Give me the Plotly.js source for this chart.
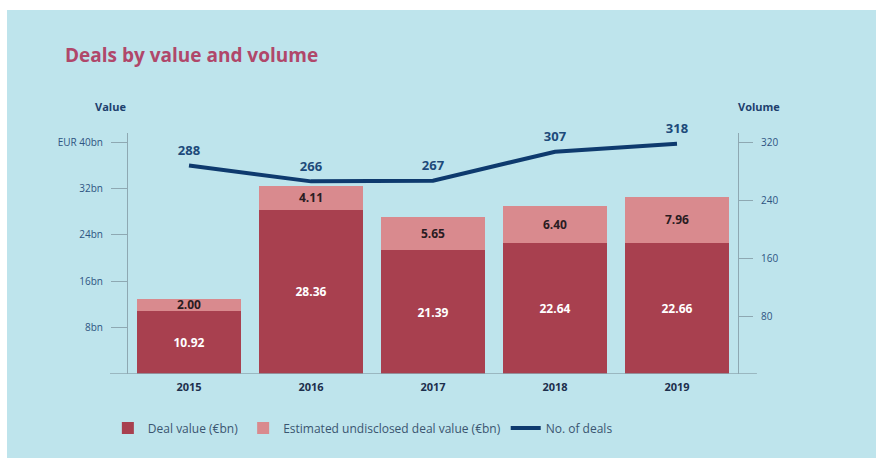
<!DOCTYPE html>
<html>
<head>
<meta charset="utf-8">
<script src="https://cdn.plot.ly/plotly-3.0.1.min.js"></script>
<style>
  html, body { margin: 0; padding: 0; background: #ffffff; }
  #chart { position: absolute; left: 7px; top: 10px; width: 869px; height: 448px; }
</style>
</head>
<body>
<div id="chart"></div>
<script>
const years = ['2015', '2016', '2017', '2018', '2019'];
const dealValue = [10.92, 28.36, 21.39, 22.64, 22.66];
const undisclosedValue = [2.00, 4.11, 5.65, 6.40, 7.96];
const numDeals = [288, 266, 267, 307, 318];
const valueTickVals = [8, 16, 24, 32, 40];
const valueTickText = ['8bn', '16bn', '24bn', '32bn', 'EUR 40bn'];
const volumeTickVals = [80, 160, 240, 320];

const FONT = '"Open Sans", "Noto Sans", Arial, sans-serif';
const AXIS_COLOR = '#8ea8b2';
const TICK_FONT_COLOR = '#2e5482';

const traces = [
  {
    type: 'bar', name: 'Deal value (€bn)', x: years, y: dealValue,
    marker: { color: '#a8404f' },
    text: dealValue.map(v => v.toFixed(2)),
    textposition: 'inside', insidetextanchor: 'middle', constraintext: 'none',
    textangle: 0,
    textfont: { family: FONT, size: 12, color: '#ffffff', weight: 'bold' },
    hoverinfo: 'skip'
  },
  {
    type: 'bar', name: 'Estimated undisclosed deal value (€bn)', x: years, y: undisclosedValue,
    marker: { color: '#d98a8e' },
    text: undisclosedValue.map(v => v.toFixed(2)),
    textposition: 'inside', insidetextanchor: 'middle', constraintext: 'none',
    textangle: 0,
    textfont: { family: FONT, size: 12, color: '#2a1c22', weight: 'bold' },
    hoverinfo: 'skip'
  },
  {
    type: 'scatter', mode: 'lines+markers+text', name: 'No. of deals', x: years, y: numDeals,
    yaxis: 'y2', cliponaxis: false,
    line: { color: '#0e3a6e', width: 4 },
    marker: { size: 10, color: 'rgba(0,0,0,0)' },
    text: numDeals.map(String), textposition: 'top center',
    textfont: { family: FONT, size: 13, color: '#1d4a7a', weight: 'bold' },
    hoverinfo: 'skip'
  }
];

const layout = {
  width: 869, height: 448,
  paper_bgcolor: '#bee4ec', plot_bgcolor: 'rgba(0,0,0,0)',
  margin: { l: 121, r: 138, t: 123, b: 84, pad: 0 },
  font: { family: FONT, color: TICK_FONT_COLOR },
  barmode: 'stack', bargap: 0.15,
  showlegend: true,
  title: {
    text: 'Deals by value and volume',
    xref: 'container', x: 58 / 869, xanchor: 'left',
    yref: 'container', y: 1 - 45 / 448, yanchor: 'middle',
    font: { family: FONT, size: 19, color: '#b0476a', weight: 'bold' }
  },
  xaxis: {
    type: 'category', range: [-0.5, 4.5], fixedrange: true,
    showline: false, showgrid: false, zeroline: false, ticks: '',
    ticklabelstandoff: 5,
    tickfont: { family: FONT, size: 11, color: '#1d2f4d', weight: 'bold' }
  },
  yaxis: {
    range: [0, 41.6], fixedrange: true,
    tickvals: valueTickVals, ticktext: valueTickText,
    showline: true, linecolor: AXIS_COLOR, linewidth: 1,
    ticks: 'outside', ticklen: 16, tickcolor: AXIS_COLOR, tickwidth: 1,
    ticklabelstandoff: 6,
    showgrid: false, zeroline: false,
    tickfont: { family: FONT, size: 10, color: TICK_FONT_COLOR }
  },
  yaxis2: {
    overlaying: 'y', side: 'right', range: [0, 332.8], fixedrange: true,
    tickvals: volumeTickVals,
    showline: true, linecolor: AXIS_COLOR, linewidth: 1,
    ticks: 'outside', ticklen: 14, tickcolor: AXIS_COLOR, tickwidth: 1,
    ticklabelstandoff: 6,
    showgrid: false, zeroline: false,
    tickfont: { family: FONT, size: 10, color: TICK_FONT_COLOR }
  },
  legend: {
    orientation: 'h', xref: 'paper', x: -0.033, xanchor: 'left',
    y: -0.224, yanchor: 'middle',
    bgcolor: 'rgba(0,0,0,0)',
    font: { family: FONT, size: 12, color: '#3a5570' },
    traceorder: 'normal'
  },
  shapes: [
    {
      type: 'line', xref: 'paper', yref: 'y', x0: -0.0295, x1: 1.031, y0: 0, y1: 0,
      line: { color: AXIS_COLOR, width: 1.5 }, layer: 'above'
    }
  ],
  annotations: [
    {
      text: 'Value', xref: 'paper', yref: 'paper', x: -0.0295, y: 1.108,
      xanchor: 'center', yanchor: 'middle', showarrow: false,
      font: { family: FONT, size: 11, color: '#1d3f6e', weight: 'bold' }
    },
    {
      text: 'Volume', xref: 'paper', yref: 'paper', x: 1.034, y: 1.108,
      xanchor: 'center', yanchor: 'middle', showarrow: false,
      font: { family: FONT, size: 11, color: '#1d3f6e', weight: 'bold' }
    }
  ]
};

Plotly.newPlot('chart', traces, layout, { staticPlot: true, displayModeBar: false });
</script>
</body>
</html>
